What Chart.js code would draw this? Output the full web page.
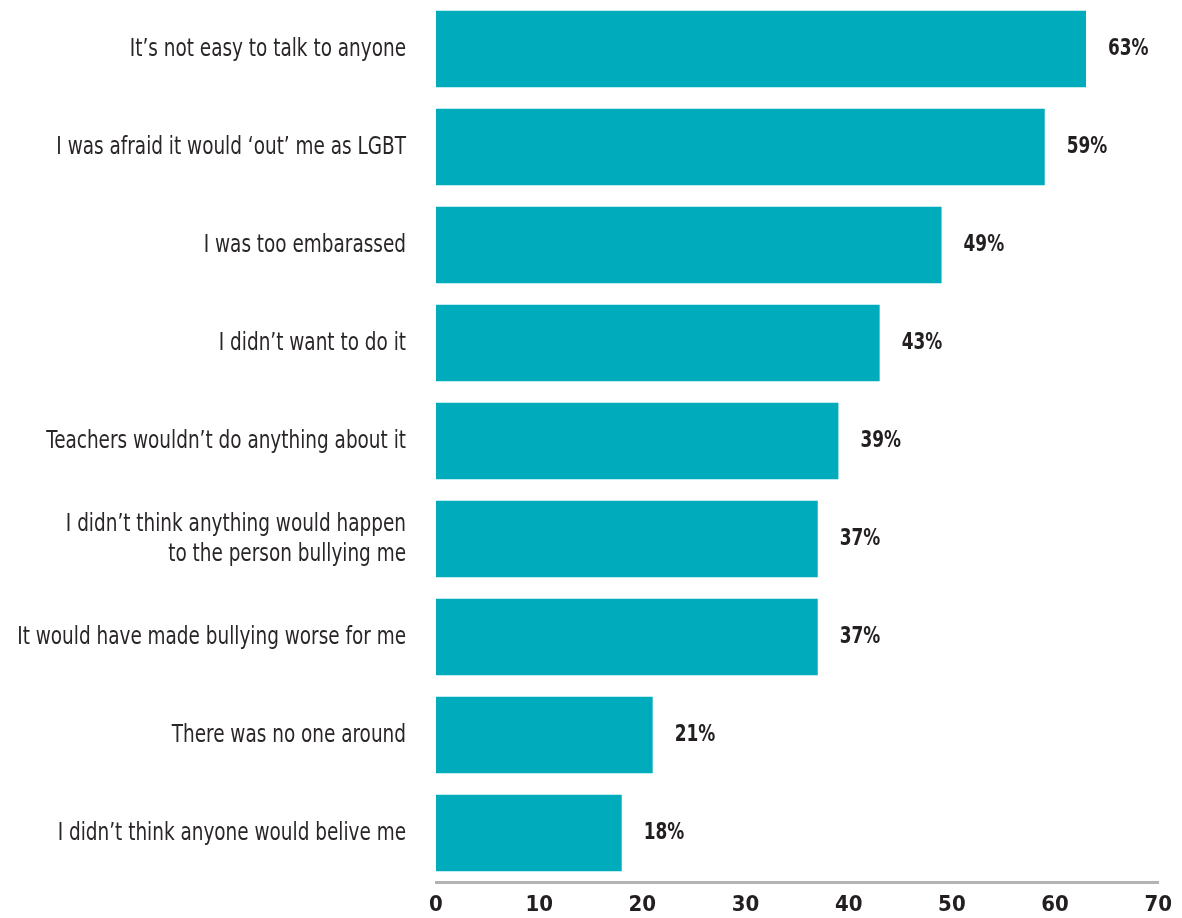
<!DOCTYPE html>
<html>
<head>
<meta charset="utf-8">
<script src="https://cdn.jsdelivr.net/npm/chart.js@4/dist/chart.umd.min.js"></script>
<style>
  html, body { margin: 0; padding: 0; background: #fff; }
  #chart { display: block; }
</style>
</head>
<body>
<canvas id="chart" width="1182" height="918"></canvas>
<script>
(function() {
    'use strict';

    // reasons for not telling anyone (percent of respondents)
    const reasons = [
        'It\u2019s not easy to talk to anyone',
        'I was afraid it would \u2018out\u2019 me as LGBT',
        'I was too embarassed',
        'I didn\u2019t want to do it',
        'Teachers wouldn\u2019t do anything about it',
        ['I didn\u2019t think anything would happen', 'to the person bullying me'],
        'It would have made bullying worse for me',
        'There was no one around',
        'I didn\u2019t think anyone would belive me'
    ];
    const percents = [63, 59, 49, 43, 39, 37, 37, 21, 18];
    const axisTicks = [0, 10, 20, 30, 40, 50, 60, 70];

    const TEAL = '#00abbc';
    const INK = '#231f20';
    const FONT = '"Liberation Sans Narrow", "DejaVu Sans Condensed", sans-serif';
    const SQUEEZE = 0.82;   // no narrow font installed, so squash the condensed one a bit

    // helper: horizontally squeezed text
    const narrowText = (ctx, text, x, y, align) => {
        ctx.save();
        ctx.translate(x, y);
        ctx.scale(SQUEEZE, 1);
        ctx.textAlign = align;
        ctx.fillText(text, 0, 0);
        ctx.restore();
    };

    // category labels on the left + "63%" value labels after each bar
    const textLabels = {
        id: 'textLabels',
        afterDatasetsDraw(chart) {
            const ctx = chart.ctx;
            const yScale = chart.scales.y;
            const meta = chart.getDatasetMeta(0);
            const labelRight = chart.chartArea.left - 30;

            ctx.save();
            ctx.textBaseline = 'middle';

            ctx.fillStyle = '#2a2627';
            ctx.font = '25px ' + FONT;
            reasons.forEach((label, i) => {
                const yc = yScale.getPixelForTick(i);
                const lines = Array.isArray(label) ? label : [label];
                const lineH = 30;
                const top = yc - (lines.length - 1) * lineH / 2;
                lines.forEach((line, j) => {
                    narrowText(ctx, line, labelRight, top + j * lineH, 'right');
                });
            });

            ctx.fillStyle = INK;
            ctx.font = 'bold 23px ' + FONT;
            meta.data.forEach((bar, i) => {
                narrowText(ctx, percents[i] + '%', bar.x + 22, bar.y, 'left');
            });
            ctx.restore();
        }
    };

    new Chart(document.getElementById('chart').getContext('2d'), {
        type: 'bar',
        data: {
            labels: reasons,
            datasets: [{
                data: percents,
                backgroundColor: TEAL,
                borderWidth: 0,
                categoryPercentage: 0.78,
                barPercentage: 1
            }]
        },
        options: {
            indexAxis: 'y',
            responsive: false,
            animation: false,
            layout: { padding: { top: 0, right: 2, bottom: 0, left: 0 } },
            plugins: {
                legend: { display: false },
                tooltip: { enabled: false }
            },
            scales: {
                x: {
                    min: 0,
                    max: 70,
                    afterBuildTicks: (scale) => {
                        scale.ticks = axisTicks.map(v => ({ value: v }));
                    },
                    afterFit: (scale) => { scale.height = 36; },
                    grid: { display: false, drawTicks: false },
                    border: { display: true, color: '#b3b3b3', width: 3 },
                    ticks: {
                        color: INK,
                        padding: 10,
                        maxRotation: 0,
                        font: { family: FONT, size: 22, weight: 'bold' }
                    }
                },
                y: {
                    afterFit: (scale) => { scale.width = 436; },
                    grid: { display: false, drawTicks: false },
                    border: { display: false },
                    ticks: { display: false }
                }
            }
        },
        plugins: [textLabels]
    });
})();
</script>
</body>
</html>
